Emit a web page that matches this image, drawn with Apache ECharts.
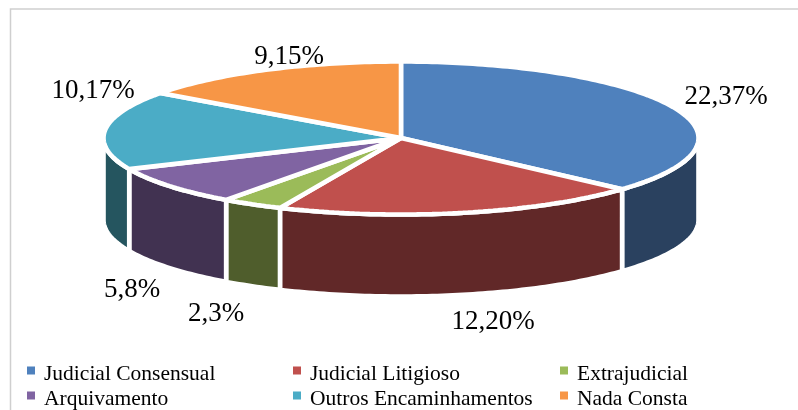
<!DOCTYPE html>
<html>
<head>
<meta charset="utf-8">
<style>
    html, body { margin: 0; padding: 0; background: #fff; }
    #in_page { width: 798px; height: 410px; }
</style>
<script src="https://cdn.jsdelivr.net/npm/echarts@6/dist/echarts.min.js"></script>
</head>
<body>
<div id="in_page"></div>
<script>
var categories = ['Judicial Consensual', 'Judicial Litigioso', 'Extrajudicial', 'Arquivamento', 'Outros Encaminhamentos', 'Nada Consta'];
// labels read "value,percent%"
var values = [22, 12, 2, 5, 10, 9];
var percents = [37, 20, 3, 8, 17, 15];

var topColors = ['#4F81BD', '#C0504D', '#9BBB59', '#8064A2', '#4BACC6', '#F79646'];
var sideColors = ['#2A415F', '#612828', '#4F5D2C', '#413251', '#25555F', '#7C4B23'];

// label centres, hand placed like in the original
var labelX = [726, 493, 216, 132, 93, 289];
var labelY = [97, 322, 314, 290, 91, 57];

// pie geometry
var cx = 401, cy = 138, rx = 297.5, ry = 76.5, depth = 82;
var gap = 4.6;
var FONT = '"Liberation Serif", "Times New Roman", serif';

var total = 0;
for (var t = 0; t < values.length; t++) {
    total += values[t];
}

// degrees clockwise from the top -> point on the ellipse
function ellipsePoint(deg, offsetY) {
    var a = deg * Math.PI / 180;
    return [cx + rx * Math.sin(a), cy - ry * Math.cos(a) + offsetY];
}

function sliceStart(idx) {
    var sum = 0;
    for (var i = 0; i < idx; i++) {
        sum += values[i];
    }
    return sum / total * 360;
}

function arcPoints(from, to, offsetY) {
    var pts = [];
    var n = Math.max(2, Math.ceil(Math.abs(to - from)));
    for (var i = 0; i <= n; i++) {
        pts.push(ellipsePoint(from + (to - from) * i / n, offsetY));
    }
    return pts;
}

function makeSlice(idx) {
    return function (params, api) {
        var from = sliceStart(idx);
        var to = from + api.value(0) / total * 360;
        var children = [];

        // wall, only the part facing the viewer
        var wallFrom = Math.max(from, 90);
        var wallTo = Math.min(to, 270);
        if (wallTo > wallFrom) {
            var wall = arcPoints(wallFrom, wallTo, 0).concat(arcPoints(wallTo, wallFrom, depth));
            children.push({
                type: 'polygon',
                z2: 1,
                shape: { points: wall },
                style: { fill: sideColors[idx], stroke: '#fff', lineWidth: gap }
            });
        }

        // top face
        children.push({
            type: 'polygon',
            z2: 2,
            shape: { points: [[cx, cy]].concat(arcPoints(from, to, 0)) },
            style: { fill: topColors[idx], stroke: '#fff', lineWidth: gap, lineJoin: 'bevel' }
        });

        children.push({
            type: 'text',
            z2: 3,
            style: {
                x: labelX[idx],
                y: labelY[idx],
                text: values[idx] + ',' + percents[idx] + '%',
                fill: '#000',
                font: '27px ' + FONT,
                align: 'center',
                verticalAlign: 'middle'
            }
        });

        return { type: 'group', children: children };
    };
}

var seriesList = [];
for (var s = 0; s < values.length; s++) {
    seriesList.push({
        type: 'custom',
        name: categories[s],
        coordinateSystem: 'none',
        data: [values[s]],
        renderItem: makeSlice(s),
        itemStyle: { color: topColors[s] },
        silent: true
    });
}

// one vertical legend per column, so the columns line up
// the empty subpath in the icon keeps the square a little above the text middle
function legendColumn(x, names) {
    return {
        orient: 'vertical',
        left: x,
        top: 362,
        height: 100,
        padding: 0,
        itemWidth: 8,
        itemHeight: 16,
        itemGap: 0,
        icon: 'path://M0,0H8V8H0Z M0,16H0Z',
        selectedMode: false,
        data: names,
        textStyle: {
            color: '#000',
            fontFamily: FONT,
            fontSize: 21.5,
            padding: [0, 0, 0, 4],
            height: 25,
            lineHeight: 25
        }
    };
}

var myChart = echarts.init(document.getElementById('in_page'));

var option = {
    animation: false,
    backgroundColor: '#fff',
    legend: [
        legendColumn(27, [categories[0], categories[3]]),
        legendColumn(293, [categories[1], categories[4]]),
        legendColumn(560, [categories[2], categories[5]])
    ],
    graphic: [{
        type: 'polyline',
        shape: { points: [[10.5, 410], [10.5, 9], [798, 9]] },
        style: { fill: null, stroke: '#CFCFCF', lineWidth: 1.5 }
    }],
    series: seriesList
};

myChart.setOption(option);
</script>
</body>
</html>
